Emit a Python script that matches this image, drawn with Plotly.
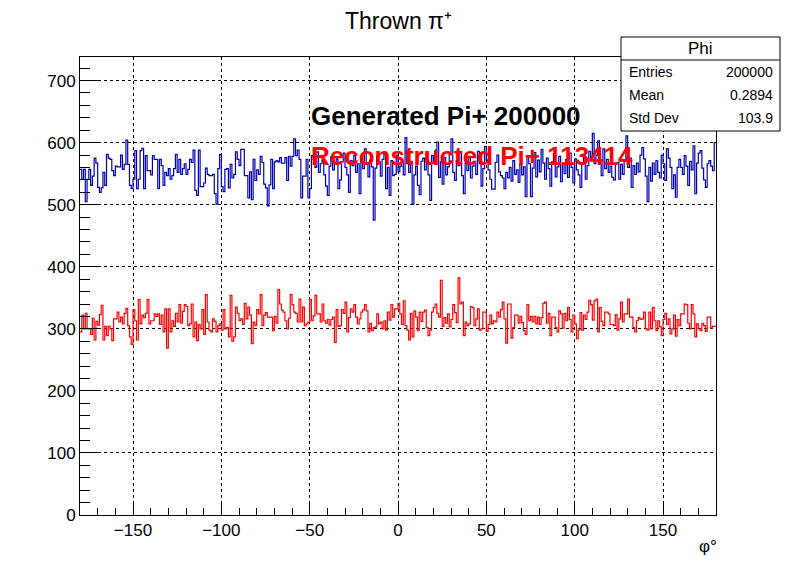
import numpy as np
import plotly.graph_objects as go

# ---------------- data ----------------
bin_lo, bin_hi, n_bins = -180.0, 180.0, 360

generated_counts = [
    557,541,557,505,541,557,531,546,575,567, 528,520,527,552,531,581,575,573,555,547,
    562,561,561,580,557,565,604,565,531,526, 541,587,526,541,587,591,526,579,555,555,
    548,579,573,573,526,573,563,531,552,547, 558,541,547,558,581,552,573,549,558,566,
    549,557,573,568,588,523,515,588,529,529, 535,559,549,547,547,549,518,501,558,581,
    529,521,557,558,527,565,543,549,585,573, 563,589,589,547,547,511,553,508,573,539,
    556,549,578,568,533,527,498,532,573,526, 569,571,569,576,567,567,576,539,578,562,
    578,606,579,588,573,511,546,546,573,511, 526,579,573,560,585,552,566,571,548,530,
    515,562,577,556,568,574,526,540,569,583, 560,548,520,571,563,579,552,566,518,575,
    558,590,567,545,572,561,475,559,578,569, 546,573,582,526,560,515,571,547,549,580,
    553,562,571,548,608,566,552,570,501,548, 562,531,516,570,575,556,583,548,507,579,
    567,588,601,544,569,533,576,548,561,584, 606,552,539,571,563,585,547,518,567,555,
    578,543,562,570,549,586,566,530,558,594, 572,556,541,525,525,568,580,553,547,543,
    526,552,543,560,538,571,549,556,536,565, 548,561,513,578,566,513,559,584,545,572,
    553,589,567,541,575,558,530,569,582,545, 561,578,537,566,550,573,544,583,560,535,
    574,556,548,528,567,579,541,563,586,572, 615,566,580,603,571,547,590,558,573,552,
    562,544,540,566,568,541,565,549,570,611, 560,575,528,563,549,567,553,580,592,574,
    546,505,560,538,567,549,571,552,543,580, 566,539,590,575,560,526,548,512,560,573,
    560,549,579,562,531,570,556,595,518,567, 583,587,559,540,528,566,571,562,555,600,
]

reconstructed_counts = [
    295,322,300,325,300,300,291,317,282,312, 306,323,338,282,304,289,304,300,281,316,
    316,327,311,319,308,325,333,305,287,275, 331,313,282,347,308,322,318,325,347,308,
    313,313,324,320,324,307,322,295,332,269, 332,295,313,304,325,311,339,309,328,339,
    336,305,308,340,287,311,281,307,300,331, 291,355,311,298,295,316,312,295,305,308,
    298,331,300,302,287,354,280,287,335,325, 313,316,307,341,316,335,322,276,311,305,
    331,324,355,305,322,326,319,319,319,297, 320,309,363,340,330,327,313,300,317,355,
    339,327,325,311,348,311,335,305,308,311, 347,313,321,354,324,324,311,340,313,309,
    315,306,315,319,278,331,304,305,331,325, 343,295,318,332,327,339,319,308,316,327,
    330,339,329,295,309,297,302,303,324,308, 311,300,313,298,327,314,339,319,332,332,
    341,324,307,345,305,298,282,325,287,329, 319,297,327,312,327,330,302,289,298,327,
    334,340,325,319,378,304,318,309,324,303, 315,339,326,310,382,340,343,289,311,305,
    308,336,334,305,316,332,298,300,327,327, 296,307,322,308,313,311,327,319,331,343,
    316,277,340,340,285,302,322,322,309,320, 310,297,291,339,313,320,311,320,308,319,
    307,318,341,343,309,325,289,319,319,302, 295,329,324,301,325,313,334,315,295,322,
    308,284,298,326,298,322,315,327,346,339, 314,345,348,295,334,312,305,327,327,324,
    307,307,305,323,298,316,343,311,324,324, 348,319,319,302,295,313,318,315,316,327,
    300,298,327,300,334,313,297,313,303,289, 315,325,307,316,292,300,322,288,315,305,
    324,324,340,339,309,300,339,324,287,308, 300,297,309,305,296,319,319,301,304,304,
]

x_tick_vals = [-150, -100, -50, 0, 50, 100, 150]
y_tick_vals = [0, 100, 200, 300, 400, 500, 600, 700]

stats_title = "Phi"
stats_labels = ["Entries", "Mean", "Std Dev"]
stats_values = ["200000", "0.2894", "103.9"]

title_text = "Thrown π⁺"
x_title = "φ°"
label_generated = "Generated Pi+ 200000"
label_reconstructed = "Reconstructed Pi+ 113414"

# ---------------- figure ----------------
OFF = 8                      # page body margin (left/top) of the html page
W, H = 796 - OFF, 572 - OFF
ML, MT = 80 - OFF, 57 - OFF
MR, MB = 80, 57
PW, PH = W - ML - MR, H - MT - MB


def px(xp):
    """screen x (window px) -> paper coordinate"""
    return (xp - OFF - ML) / PW


def py(yp):
    """screen y (window px) -> paper coordinate"""
    return (H - MB - (yp - OFF)) / PH


edges = np.linspace(bin_lo, bin_hi, n_bins + 1)


def step_xy(counts):
    c = np.asarray(counts, dtype=float)
    return edges, np.append(c, c[-1])


FONT = "Liberation Sans, Arial, Helvetica, sans-serif"

fig = go.Figure()
xg, yg = step_xy(generated_counts)
fig.add_trace(go.Scatter(x=xg, y=yg, mode="lines", line=dict(color="#0000b4", width=1.2, shape="hv"),
                         hoverinfo="skip", showlegend=False))
xr, yr = step_xy(reconstructed_counts)
fig.add_trace(go.Scatter(x=xr, y=yr, mode="lines", line=dict(color="#ff0000", width=1.2, shape="hv"),
                         hoverinfo="skip", showlegend=False))

axis_common = dict(showline=True, mirror=True, linecolor="black", linewidth=1,
                   showgrid=True, gridcolor="black", griddash="dot", gridwidth=1,
                   zeroline=False, ticks="inside", tickcolor="black",
                   tickfont=dict(family=FONT, size=17, color="black"))

fig.update_xaxes(range=[bin_lo, bin_hi], tickmode="array", tickvals=x_tick_vals, ticklen=14,
                 minor=dict(dtick=10, tick0=0, ticks="inside", ticklen=7, tickcolor="black", showgrid=False),
                 **axis_common)
fig.update_yaxes(range=[0, 738], tickmode="array", tickvals=y_tick_vals, ticklen=19,
                 minor=dict(dtick=20, tick0=0, ticks="inside", ticklen=10, tickcolor="black", showgrid=False),
                 **axis_common)

shapes = [
    dict(type="rect", xref="paper", yref="paper", x0=px(621), x1=px(780), y0=py(131), y1=py(37),
         fillcolor="white", line=dict(color="black", width=1), layer="above"),
    dict(type="line", xref="paper", yref="paper", x0=px(621), x1=px(780), y0=py(60), y1=py(60),
         line=dict(color="black", width=1), layer="above"),
]

ann = [
    dict(text=title_text, x=px(398), y=py(21), xref="paper", yref="paper", showarrow=False,
         xanchor="center", yanchor="middle", font=dict(family=FONT, size=23, color="black")),
    dict(text=x_title, x=px(708), y=py(546), xref="paper", yref="paper", showarrow=False,
         xanchor="center", yanchor="middle", font=dict(family=FONT, size=17, color="black")),
    dict(text="<b>" + label_generated + "</b>", x=px(309), y=py(116), xref="paper", yref="paper",
         showarrow=False, xanchor="left", yanchor="middle", font=dict(family=FONT, size=26, color="black")),
    dict(text="<b>" + label_reconstructed + "</b>", x=px(309), y=py(156), xref="paper", yref="paper",
         showarrow=False, xanchor="left", yanchor="middle", font=dict(family=FONT, size=26, color="#ff0000")),
    dict(text=stats_title, x=px(700), y=py(48), xref="paper", yref="paper", showarrow=False,
         xanchor="center", yanchor="middle", font=dict(family=FONT, size=17, color="black")),
]
row_y = [72, 95, 118]
for lab, val, yy in zip(stats_labels, stats_values, row_y):
    ann.append(dict(text=lab, x=px(627), y=py(yy), xref="paper", yref="paper", showarrow=False,
                    xanchor="left", yanchor="middle", font=dict(family=FONT, size=14, color="black")))
    ann.append(dict(text=val, x=px(775), y=py(yy), xref="paper", yref="paper", showarrow=False,
                    xanchor="right", yanchor="middle", font=dict(family=FONT, size=14, color="black")))

fig.update_layout(width=W, height=H, margin=dict(l=ML, r=MR, t=MT, b=MB, autoexpand=False),
                  paper_bgcolor="white", plot_bgcolor="white", showlegend=False,
                  shapes=shapes, annotations=ann)

fig.write_html("out.html")
